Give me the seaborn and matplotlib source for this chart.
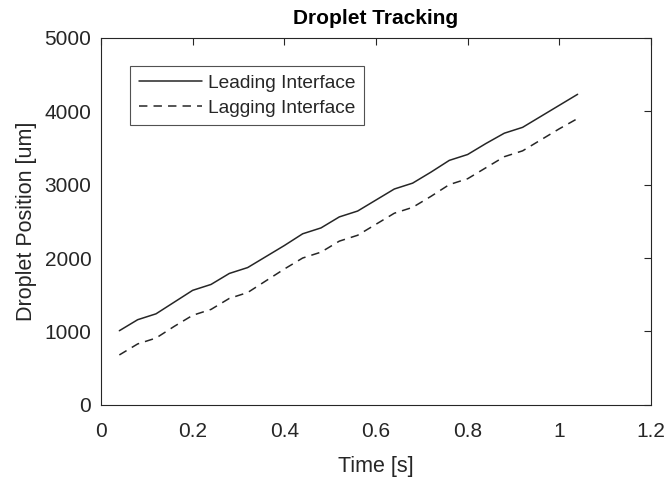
import matplotlib
matplotlib.use('Agg')
import matplotlib.pyplot as plt
import seaborn as sns
import pandas as pd

# tiempos de muestreo (s)
time_s = [0.04, 0.08, 0.12, 0.16, 0.20, 0.24, 0.28, 0.32, 0.36, 0.40, 0.44, 0.48, 0.52,
          0.56, 0.60, 0.64, 0.68, 0.72, 0.76, 0.80, 0.84, 0.88, 0.92, 0.96, 1.00, 1.04]
leading_um = [1010, 1160, 1240, 1400, 1560, 1640, 1790, 1870, 2020, 2170, 2330, 2410, 2560,
              2640, 2790, 2940, 3020, 3170, 3330, 3410, 3560, 3700, 3780, 3930, 4080, 4230]
lagging_um = [680, 830, 910, 1070, 1220, 1300, 1450, 1530, 1690, 1850, 2000, 2080, 2230,
              2310, 2460, 2610, 2690, 2840, 3000, 3080, 3230, 3380, 3460, 3610, 3760, 3900]
series_names = ['Leading Interface', 'Lagging Interface']
x_ticks = [0, 0.2, 0.4, 0.6, 0.8, 1, 1.2]
x_tick_labels = ['0', '0.2', '0.4', '0.6', '0.8', '1', '1.2']
y_ticks = [0, 1000, 2000, 3000, 4000, 5000]

df = pd.DataFrame({
    'Time': time_s * 2,
    'Position': leading_um + lagging_um,
    'Interface': [series_names[0]] * len(time_s) + [series_names[1]] * len(time_s),
})

sns.set_style('white')
plt.rcParams['font.family'] = ['Liberation Sans', 'DejaVu Sans']

fig = plt.figure(figsize=(6.69, 4.78), dpi=100)
# caja de ejes: x 101-651 px, y 38-405 px
ax = fig.add_axes([0.151, 0.153, 0.822, 0.768])

sns.lineplot(data=df, x='Time', y='Position', hue='Interface', style='Interface',
             palette=['#262626', '#262626'], dashes=[(None, None), (5.5, 4)],
             linewidth=1.1, ax=ax)

ax.set_xlim(0, 1.2)
ax.set_ylim(0, 5000)
ax.set_xticks(x_ticks)
ax.set_xticklabels(x_tick_labels)
ax.set_yticks(y_ticks)
ax.tick_params(direction='in', length=5, width=0.8, top=True, right=True,
               labelsize=15, colors='#262626')
ax.tick_params(axis='x', pad=12)
ax.tick_params(axis='y', pad=7)
for sp in ax.spines.values():
    sp.set_color('#262626')
    sp.set_linewidth(0.8)

ax.set_xlabel('Time [s]', fontsize=15.5, color='#262626', labelpad=11)
ax.set_ylabel('Droplet Position [um]', fontsize=15.5, color='#262626', labelpad=5)
ax.set_title('Droplet Tracking', fontsize=15, fontweight='bold', color='black', pad=10)

leg = ax.legend(loc='upper left', bbox_to_anchor=(0.053, 0.924), fontsize=13.8,
                frameon=True, fancybox=False, edgecolor='#262626', handlelength=3.3,
                handletextpad=0.3, borderpad=0.45, labelspacing=0.4, borderaxespad=0)
leg.get_frame().set_linewidth(0.8)

fig.savefig('out.png', dpi=100, facecolor='white')
